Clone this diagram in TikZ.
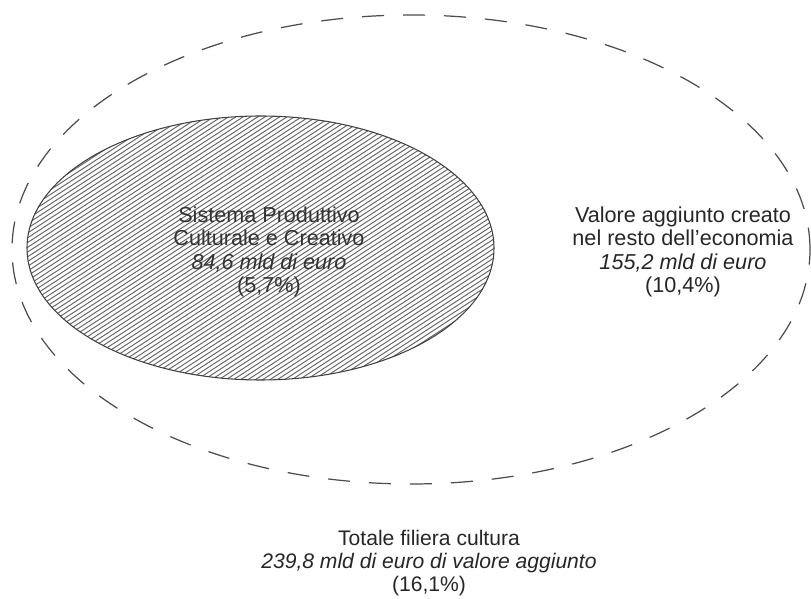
\documentclass[tikz,border=0pt]{standalone}
\usepackage{fontspec}
\setmainfont{Liberation Sans}
\usetikzlibrary{positioning}

\begin{document}
\begin{tikzpicture}
		\newcommand{\hatchStep}{0.095}
		\tikzset{valueText/.style={align=center, font=\fontsize{12.3}{13.2}\selectfont, text=black!85}}

		\useasboundingbox (0,0) rectangle (16.22,11.98);	% page

		% hatched inner ellipse
		\begin{scope}
			\clip (5.21,7.02) ellipse (4.67 and 2.64);
			\foreach \i in {-25,...,105} {
				\draw[black!60, line width=0.55pt] (0.4,\i*\hatchStep) -- ++(33:11.5);
			}
		\end{scope}
		\draw[black!75, line width=0.6pt] (5.21,7.02) ellipse (4.67 and 2.64);

		% dashed outer ellipse
		\draw[black!70, line width=0.7pt, dash pattern=on 0.44cm off 0.38cm] (8.22,6.99) ellipse (7.98 and 4.69);

		% texts
		\node[valueText, text=black!80] (spcc) at (5.38,6.94) {Sistema Produttivo\\Culturale e Creativo\\\textit{84,6 mld di euro}\\(5,7\%)};
		\node[valueText] (resto) at (13.66,6.94) {Valore aggiunto creato\\nel resto dell’economia\\\textit{155,2 mld di euro}\\(10,4\%)};
		\node[valueText, font=\fontsize{12}{13.2}\selectfont] (totale) at (8.58,0.72) {Totale filiera cultura\\\textit{239,8 mld di euro di valore aggiunto}\\(16,1\%)};
\end{tikzpicture}
\end{document}
